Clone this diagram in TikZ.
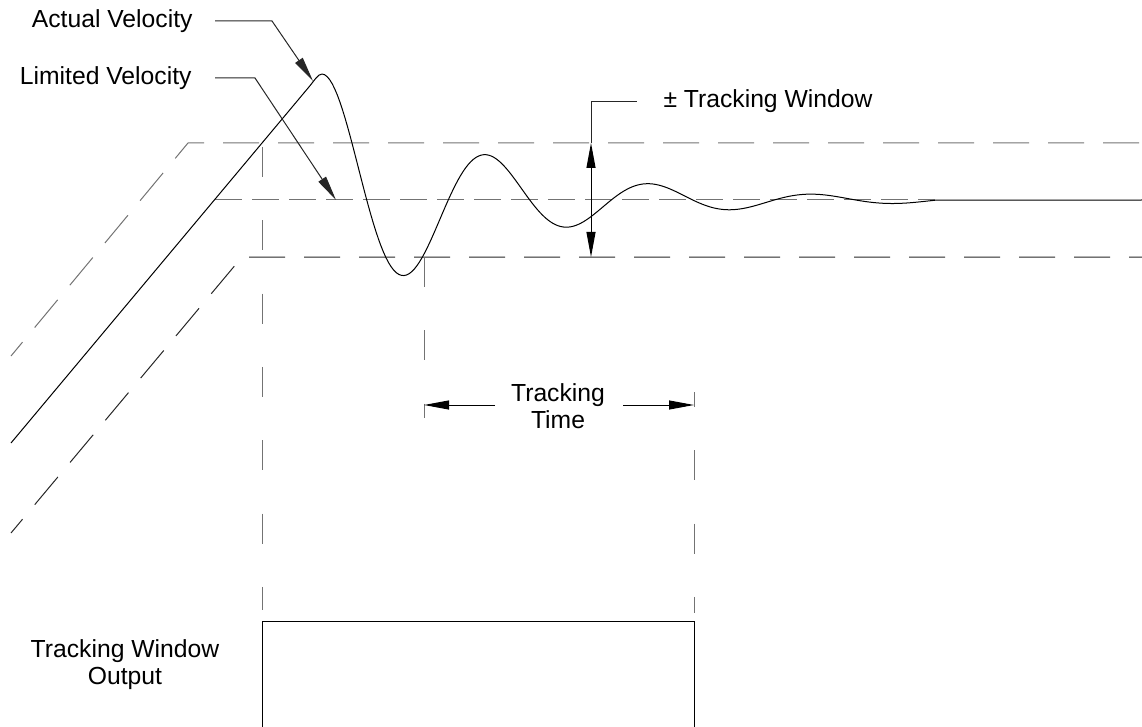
\documentclass[tikz,border=0pt]{standalone}
\usepackage{fontspec}
\setmainfont{Liberation Sans}
\usetikzlibrary{arrows.meta}
\begin{document}
\begin{tikzpicture}[x=1pt,y=-1pt,line width=1pt,
  lbl/.style={font=\fontsize{24.7}{27}\selectfont,inner sep=0pt,align=center},
  dshh/.style={draw=black!55,dash pattern=on 36pt off 19pt},
  dshb/.style={draw=black!85,dash pattern=on 36pt off 19pt},
  dshm/.style={draw=black!55,dash pattern=on 27pt off 10pt},
  dshv/.style={draw=black!55,dash pattern=on 30pt off 43.3pt},
  arrowed/.style={-{Triangle[length=25pt,width=9pt]}},
  twoarrowed/.style={{Triangle[length=25pt,width=9pt]}-{Triangle[length=25pt,width=9pt]}},
  lead/.style={draw=black!85},
  curve/.style={draw=black}]
\useasboundingbox (0,0) rectangle (1142,727);

% labels
\node[lbl,anchor=base east] (actual) at (193,28) {Actual Velocity};
\node[lbl,anchor=base east] (limited) at (192,85) {Limited Velocity};
\node[lbl,anchor=base west] (twin) at (663,108) {± Tracking Window};
\node[lbl,anchor=base] (ttime) at (558,428) {Tracking\\Time};
\node[lbl,anchor=base] (twout) at (125,684) {Tracking Window\\Output};

% coordinates
\coordinate (T0) at (11,356);  \coordinate (T1) at (188,143); \coordinate (T2) at (1142,143);
\coordinate (M0) at (215,200); \coordinate (M1) at (935,200);
\coordinate (B0) at (11,533);  \coordinate (B1) at (242,257); \coordinate (B2) at (1142,257);
\coordinate (S0) at (11,443);  \coordinate (S1) at (310,85.7);
\coordinate (C1) at (314,80.9); \coordinate (C2) at (318,74); \coordinate (P) at (322,74);
\coordinate (E) at (1142,200);
\coordinate (AL1) at (215,21); \coordinate (AL2) at (272,21); \coordinate (ALt) at (313,81);
\coordinate (LL1) at (215,78); \coordinate (LL2) at (255,78); \coordinate (LLt) at (336,200);
\coordinate (WT) at (591,143); \coordinate (WB) at (591,257); \coordinate (WL1) at (591,102); \coordinate (WL2) at (637,102);
\coordinate (V1a) at (262,147); \coordinate (V1b) at (262,610);
\coordinate (V2a) at (424,257); \coordinate (V2b) at (424,418);
\coordinate (V3a) at (694,392); \coordinate (V3b) at (694,613);
\coordinate (TTl) at (424,405); \coordinate (TTla) at (495,405);
\coordinate (TTr) at (694,405); \coordinate (TTra) at (623,405);
\coordinate (R0) at (262,727); \coordinate (R1) at (262,621); \coordinate (R2) at (694,621); \coordinate (R3) at (694,727);

% tracking window band
\draw[dshh,dash phase=18pt] (T0) -- (T1) -- (T2);
\draw[dshm] (M0) -- (M1);
\draw[dshb,dash phase=18pt] (B0) -- (B1) -- (B2);

% verticals
\draw[dshv] (V1a) -- (V1b);
\draw[dshv] (V2a) -- (V2b);
\draw[dshv,dash phase=15pt] (V3a) -- (V3b);

% velocity curve: ramp, overshoot, damped settling
\draw[curve,line join=round] (S0) -- (S1) .. controls (C1) and (C2) .. (P)
  -- plot[domain=322:935,samples=240,variable=\t]
     (\t,{200-127.5*exp(-0.00627*(\t-322))*cos(2.2086*(\t-326))})
  -- (E);

% leaders
\draw[lead,arrowed] (AL1) -- (AL2) -- (ALt);
\draw[lead,arrowed] (LL1) -- (LL2) -- (LLt);
\draw[lead] (WT) -- (WL1) -- (WL2);
\draw[twoarrowed] (WT) -- (WB);

% tracking time
\draw[arrowed] (TTla) -- (TTl);
\draw[arrowed] (TTra) -- (TTr);

% output box
\draw (R0) -- (R1) -- (R2) -- (R3);
\end{tikzpicture}
\end{document}
